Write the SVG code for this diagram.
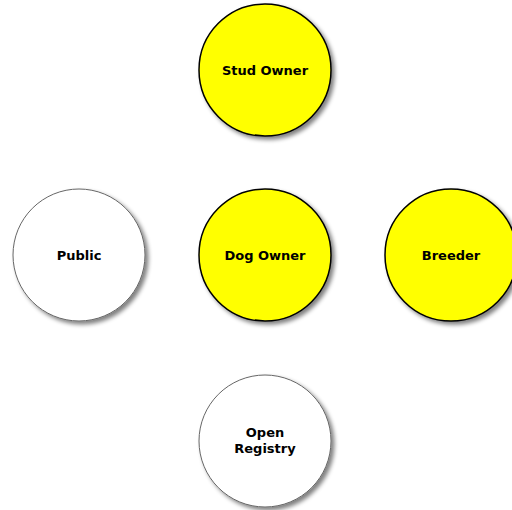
<svg xmlns="http://www.w3.org/2000/svg" width="512" height="510" viewBox="0 0 512 510">
<defs>
<filter id="sh" x="-20%" y="-20%" width="150%" height="150%">
<feGaussianBlur in="SourceAlpha" stdDeviation="2"/>
<feOffset dx="3" dy="3" result="b"/>
<feComponentTransfer><feFuncA type="linear" slope="0.5"/></feComponentTransfer>
<feMerge><feMergeNode/><feMergeNode in="SourceGraphic"/></feMerge>
</filter>
</defs>
<style>
.y{fill:#ffff00;stroke:#000;stroke-width:1.5;filter:url(#sh)}
.w{fill:#fff;stroke:#666;stroke-width:1;filter:url(#sh)}
text{font-family:"DejaVu Sans",Verdana,sans-serif;font-weight:bold;font-size:13px;text-anchor:middle;fill:#000}
</style>
<rect width="512" height="510" fill="#fff"/>
<g id="connectors"/>
<g id="stud-owner"><circle class="y" cx="265" cy="70" r="66"/><text x="265" y="75">Stud Owner</text></g>
<g id="public"><circle class="w" cx="79" cy="255" r="66"/><text x="79" y="260">Public</text></g>
<g id="dog-owner"><circle class="y" cx="265" cy="255" r="66"/><text x="265" y="260">Dog Owner</text></g>
<g id="breeder"><circle class="y" cx="451" cy="255" r="66"/><text x="451" y="260">Breeder</text></g>
<g id="open-registry"><circle class="w" cx="265" cy="441" r="66"/><text x="265" y="437">Open</text><text x="265" y="453">Registry</text></g>
</svg>
